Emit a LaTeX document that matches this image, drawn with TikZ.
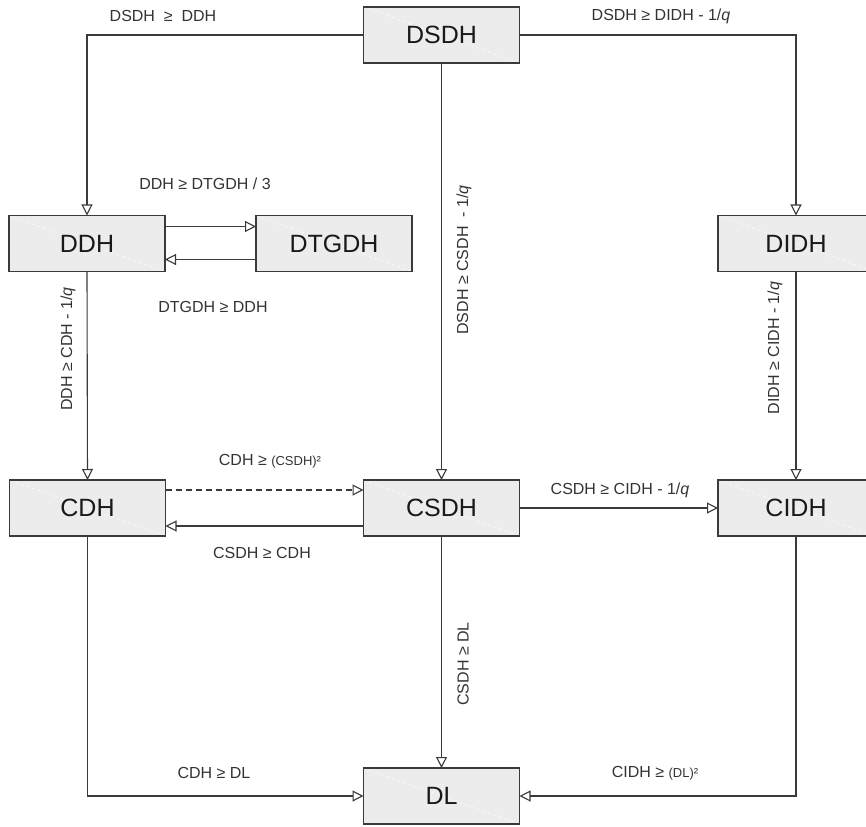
\documentclass[tikz,border=0pt]{standalone}
\usepackage{fontspec}
\setmainfont{Liberation Sans}
\usetikzlibrary{arrows.meta}
\definecolor{boxfill}{HTML}{ECECEC}
\definecolor{linec}{HTML}{3A3A3A}
\definecolor{labc}{HTML}{333333}
\tikzset{
  box/.style={draw=linec, line width=1.1pt, fill=boxfill, minimum width=156pt, minimum height=56pt,
    inner sep=0pt, outer sep=0pt, text=black!90, font=\fontsize{25}{29}\selectfont,
    path picture={\draw[white, dashed, line width=0.5pt] (path picture bounding box.north west) -- (path picture bounding box.south east);}},
  conn/.style={draw=linec, line width=1.1pt, -{Triangle[open, length=11pt, width=11pt, fill=white]}},
  lab/.style={text=labc, font=\fontsize{16}{19}\selectfont, inner sep=0pt},
  dashline/.style={dash pattern=on 6pt off 4pt},
}
\newcommand{\sm}[1]{{\fontsize{13}{15}\selectfont #1}}
\begin{document}
\begin{tikzpicture}[x=1pt,y=-1pt]
\path[use as bounding box] (0,0) rectangle (866,826);
% boxes
\node[box] (dsdh) at (441.5,35) {DSDH};
\node[box] (ddh) at (87,243.5) {DDH};
\node[box] (dtgdh) at (334,243.5) {DTGDH};
\node[box] (didh) at (796,243.5) {DIDH};
\node[box] (cdh) at (87.5,508) {CDH};
\node[box] (csdh) at (441.5,508) {CSDH};
\node[box] (cidh) at (796,508) {CIDH};
\node[box] (dl) at (441.5,796) {DL};
% connectors
\draw[conn] (dsdh.west) -| (ddh.north);
\draw[conn] (dsdh.east) -| (didh.north);
\draw[conn] (dsdh.south) -- (csdh.north);
\draw[conn] ([yshift=17pt]ddh.east) -- ([yshift=17pt]dtgdh.west);
\draw[conn] ([yshift=-16pt]dtgdh.west) -- ([yshift=-16pt]ddh.east);
\draw[conn] (ddh.south) -- (cdh.north);
\draw[conn] (didh.south) -- (cidh.north);
\draw[conn, dashline] ([yshift=18pt]cdh.east) -- ([yshift=18pt]csdh.west);
\draw[conn] ([yshift=-18pt]csdh.west) -- ([yshift=-18pt]cdh.east);
\draw[conn] (csdh.east) -- (cidh.west);
\draw[conn] (csdh.south) -- (dl.north);
\draw[conn] (cdh.south) |- (dl.west);
\draw[conn] (cidh.south) |- (dl.east);
% labels
\node[lab] (l1) at (163,16) {DSDH \ ≥ \ DDH};
\node[lab] (l2) at (661,16) {DSDH ≥ DIDH - 1/\textit{q}};
\node[lab] (l3) at (205,184) {DDH ≥ DTGDH / 3};
\node[lab] (l4) at (213,307) {DTGDH ≥ DDH};
\node[lab, rotate=90] (l5) at (68,349) {DDH ≥ CDH - 1/\textit{q}};
\node[lab, rotate=90] (l6) at (464,260) {DSDH ≥ CSDH \ - 1/\textit{q}};
\node[lab, rotate=90] (l7) at (775,348) {DIDH ≥ CIDH - 1/\textit{q}};
\node[lab] (l8) at (270,461) {CDH ≥ \sm{(CSDH)²}};
\node[lab] (l9) at (262,553) {CSDH ≥ CDH};
\node[lab] (l10) at (620,490) {CSDH ≥ CIDH - 1/\textit{q}};
\node[lab, rotate=90] (l11) at (463,664) {CSDH ≥ DL};
\node[lab] (l12) at (214,773) {CDH ≥ DL};
\node[lab] (l13) at (655,773) {CIDH ≥ \sm{(DL)²}};
\end{tikzpicture}
\end{document}
